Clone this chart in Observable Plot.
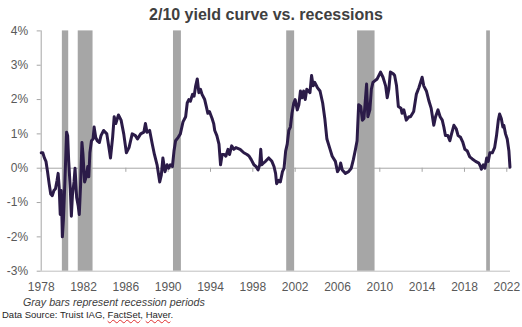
<!DOCTYPE html>
<html><head><meta charset="utf-8">
<script src="https://cdn.jsdelivr.net/npm/d3@7"></script>
<script src="https://cdn.jsdelivr.net/npm/@observablehq/plot@0.6"></script>
<style>
body{margin:0;background:#fff;font-family:"Liberation Sans",Arial,sans-serif;}
#wrap{position:relative;width:522px;height:327px;overflow:hidden;background:#fff;}
#chart{position:absolute;left:0;top:0;}
#title{position:absolute;left:5px;top:5px;width:522px;text-align:center;font-weight:bold;font-size:16px;line-height:19px;color:#404040;}
#note{position:absolute;left:23px;top:296px;font-style:italic;font-size:10.7px;line-height:13px;color:#404040;white-space:nowrap;}
#source{position:absolute;left:2px;top:309px;font-size:9.5px;line-height:12px;color:#262626;white-space:nowrap;}
.sq{text-decoration:underline wavy #e03030;text-decoration-thickness:1px;}
</style></head><body>
<div id="wrap">
  <div id="chart"></div>
  <div id="title">2/10 yield curve vs. recessions</div>
  <div id="note">Gray bars represent recession periods</div>
  <div id="source">Data Source: Truist IAG, <span class="sq">FactSet</span>, <span class="sq">Haver</span>.</div>
</div>
<script>
const years = [1978.00,1978.15,1978.30,1978.45,1978.60,1978.75,1978.90,1979.05,1979.20,1979.35,1979.50,1979.60,1979.70,1979.80,1979.90,1980.00,1980.10,1980.25,1980.40,1980.50,1980.60,1980.75,1980.85,1980.95,1981.10,1981.20,1981.35,1981.50,1981.60,1981.72,1981.85,1981.95,1982.10,1982.25,1982.40,1982.50,1982.60,1982.75,1982.90,1983.00,1983.15,1983.30,1983.50,1983.65,1983.90,1984.20,1984.40,1984.55,1984.75,1984.90,1985.05,1985.30,1985.55,1985.80,1986.05,1986.30,1986.60,1986.90,1987.10,1987.40,1987.70,1987.85,1988.00,1988.25,1988.50,1988.70,1988.95,1989.20,1989.35,1989.50,1989.70,1989.90,1990.05,1990.20,1990.40,1990.55,1990.70,1990.95,1991.15,1991.40,1991.65,1991.80,1991.95,1992.10,1992.30,1992.45,1992.60,1992.75,1992.90,1993.05,1993.20,1993.45,1993.60,1993.75,1993.90,1994.15,1994.30,1994.40,1994.60,1994.80,1994.95,1995.10,1995.30,1995.45,1995.65,1995.80,1996.00,1996.20,1996.40,1996.80,1997.15,1997.45,1997.65,1997.85,1998.10,1998.30,1998.50,1998.65,1998.75,1998.85,1999.00,1999.20,1999.50,1999.80,2000.00,2000.15,2000.25,2000.45,2000.60,2000.80,2000.95,2001.10,2001.25,2001.40,2001.55,2001.70,2001.87,2002.00,2002.20,2002.35,2002.50,2002.65,2002.80,2002.95,2003.10,2003.40,2003.55,2003.70,2003.85,2004.10,2004.35,2004.60,2004.80,2005.00,2005.25,2005.50,2005.80,2006.00,2006.20,2006.30,2006.45,2006.75,2007.05,2007.30,2007.50,2007.70,2007.85,2008.00,2008.20,2008.35,2008.50,2008.75,2008.87,2009.06,2009.20,2009.35,2009.55,2009.75,2010.07,2010.30,2010.55,2010.70,2010.85,2011.00,2011.27,2011.40,2011.58,2011.75,2012.00,2012.10,2012.27,2012.50,2012.75,2012.90,2013.20,2013.45,2013.70,2014.00,2014.15,2014.40,2014.65,2014.85,2015.10,2015.27,2015.50,2015.70,2015.90,2016.05,2016.20,2016.43,2016.62,2016.78,2017.00,2017.22,2017.40,2017.63,2017.85,2018.04,2018.27,2018.50,2018.74,2019.05,2019.36,2019.52,2019.60,2019.78,2019.93,2020.10,2020.25,2020.40,2020.63,2020.85,2021.03,2021.20,2021.32,2021.48,2021.63,2021.72,2021.88,2022.04,2022.20,2022.30];
const spreads = [0.45,0.45,0.30,0.20,-0.10,-0.45,-0.75,-0.80,-0.65,-0.60,-0.35,-0.15,-0.55,-1.35,-0.65,-2.00,-1.50,-0.30,1.05,0.95,0.20,-0.60,-1.40,-0.80,-0.40,0.00,-0.85,-1.10,-1.35,-0.50,0.75,0.40,-0.40,-0.25,0.05,-0.25,0.45,0.80,0.85,1.20,0.90,0.80,0.75,0.95,1.10,1.00,0.60,0.30,0.90,1.50,1.30,1.55,1.40,1.00,0.45,0.60,1.00,0.95,0.85,1.00,1.05,1.30,1.05,1.10,0.70,0.40,0.10,-0.40,-0.20,0.30,-0.10,0.10,0.00,0.10,0.05,0.50,0.80,0.90,1.00,1.35,1.50,1.90,2.00,1.95,2.15,2.10,2.40,2.60,2.20,2.30,2.15,2.00,1.80,1.60,1.65,1.45,1.30,1.10,0.95,0.70,0.10,0.40,0.40,0.35,0.55,0.40,0.65,0.55,0.60,0.55,0.45,0.40,0.35,0.25,0.10,0.05,-0.05,0.10,0.55,0.10,0.15,0.20,0.30,0.20,0.05,-0.15,-0.45,-0.35,-0.40,-0.10,0.00,0.50,0.70,1.10,1.20,1.60,1.90,2.00,1.70,1.85,2.25,2.05,2.25,2.00,2.30,2.20,2.70,2.40,2.50,2.35,2.25,1.90,1.45,0.85,0.60,0.35,0.20,-0.10,0.00,0.15,-0.05,-0.15,-0.10,0.00,0.25,0.55,0.80,1.85,1.80,1.40,1.45,2.45,1.50,1.70,2.30,2.50,2.55,2.60,2.80,2.65,2.40,2.05,2.30,2.80,2.75,2.70,2.40,1.80,1.75,1.60,1.70,1.40,1.50,1.50,1.65,2.15,2.35,2.65,2.40,2.25,1.95,1.75,1.25,1.50,1.70,1.50,1.40,1.20,0.95,0.95,0.80,1.00,1.25,1.15,0.95,0.90,0.75,0.55,0.50,0.33,0.27,0.20,0.15,0.05,-0.03,0.10,0.00,0.30,0.20,0.45,0.45,0.60,0.95,1.40,1.58,1.45,1.20,1.25,1.00,0.85,0.50,0.03];

const recessionStarts = [1980.0, 1981.5, 1990.5, 2001.2, 2007.9, 2020.1];
const recessionEnds   = [1980.6, 1982.9, 1991.25, 2001.95, 2009.55, 2020.45];

const xTickYears = [1978,1982,1986,1990,1994,1998,2002,2006,2010,2014,2018,2022];
const yTickValues = [-3,-2,-1,0,1,2,3,4];

const series = years.map((y, i) => ({year: y, spread: spreads[i]}));
const recessions = recessionStarts.map((s, i) => ({start: s, end: recessionEnds[i]}));

const axisGray = "#a6a6a6";
const chart = Plot.plot({
  width: 522,
  height: 327,
  marginTop: 30.4,
  marginBottom: 56.3,
  marginLeft: 40.7,
  marginRight: 12,
  x: {domain: [1978, 2022.35], label: null},
  y: {domain: [-3, 4], label: null},
  style: {fontFamily: '"Liberation Sans", Arial, sans-serif', fontSize: "12px", color: "#595959", background: "transparent"},
  marks: [
    Plot.ruleY([0], {stroke: axisGray, strokeWidth: 1}),
    Plot.ruleY([-3], {stroke: "#bfbfbf", strokeWidth: 1}),
    Plot.ruleX(xTickYears, {x: d => d, y1: 0, y2: -0.12, stroke: axisGray}),
    Plot.ruleX([1978], {y1: -3, y2: 4, stroke: axisGray}),
    Plot.rect(recessions, {x1: "start", x2: "end", y1: -3, y2: 4, fill: "#a6a6a6"}),
    Plot.axisY({ticks: yTickValues, tickFormat: d => d + "%", tickSize: 4, tickPadding: 9, stroke: axisGray, fontSize: 12, label: null}),
    Plot.axisX({ticks: xTickYears, tickFormat: d => String(d), tickSize: 0, tickPadding: 11, label: null}),
    Plot.line(series, {x: "year", y: "spread", stroke: "#2b1b48", strokeWidth: 3, strokeLinejoin: "round", strokeLinecap: "round"})
  ]
});
document.getElementById("chart").appendChild(chart);
</script>
</body></html>
